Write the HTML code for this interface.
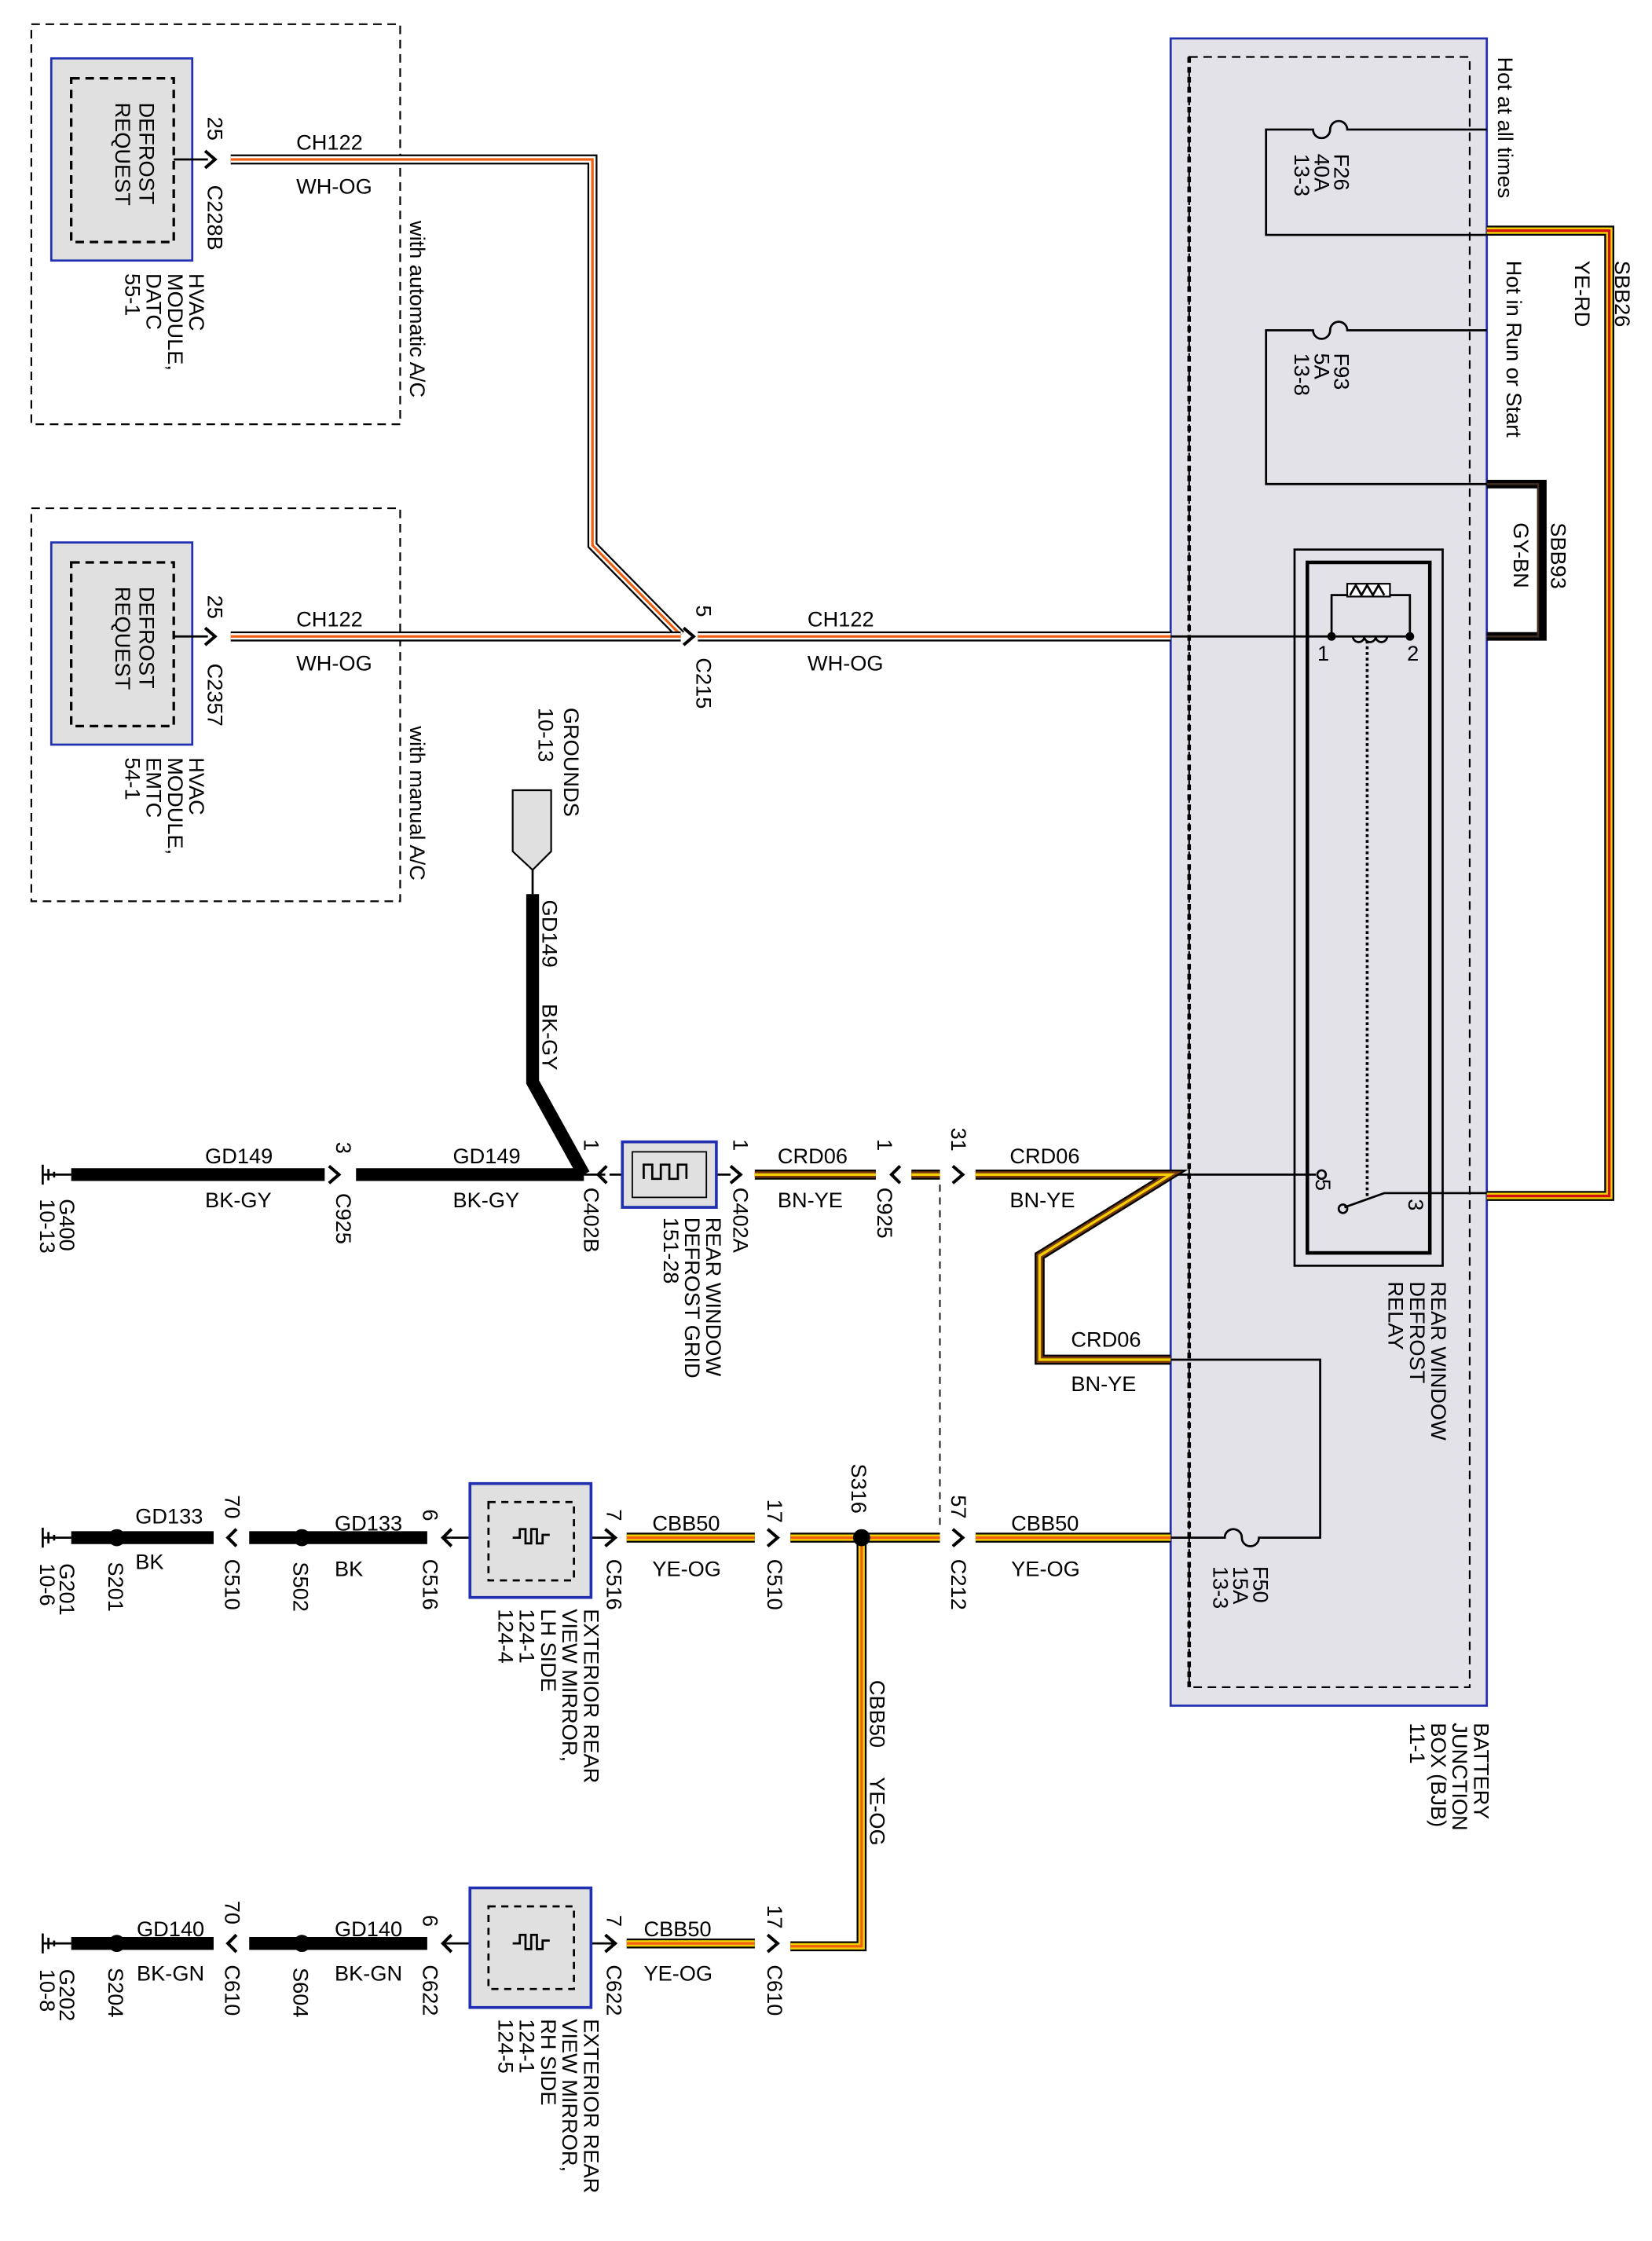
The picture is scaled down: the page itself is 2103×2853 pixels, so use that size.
<!DOCTYPE html>
<html><head><meta charset="utf-8"><style>
html,body{margin:0;padding:0;background:#fff}
svg{display:block}
text{font-family:"Liberation Sans",sans-serif;font-size:15px;fill:#000}
.k{fill:none;stroke:#000;stroke-width:7}
.wh{fill:none;stroke:#fff;stroke-width:4.5}
.ye{fill:none;stroke:#f5d000;stroke-width:4.5}
.bn{fill:none;stroke:#7a3b10;stroke-width:4.5}
.og{fill:none;stroke:#f06010;stroke-width:1.8}
.rd{fill:none;stroke:#d01010;stroke-width:1.8}
.yes{fill:none;stroke:#f5d000;stroke-width:1.8}
.th{fill:none;stroke:#000;stroke-width:9}
.t{fill:none;stroke:#000;stroke-width:1.5}
.ar{fill:none;stroke:#000;stroke-width:2.2}
</style></head><body>
<svg width="2103" height="2853" viewBox="0 0 1160 1574" preserveAspectRatio="none" xmlns="http://www.w3.org/2000/svg">
<rect x="22" y="17" width="259" height="281" fill="none" stroke="#000" stroke-width="1.2" stroke-dasharray="6,4"/>
<rect x="22" y="357" width="259" height="276" fill="none" stroke="#000" stroke-width="1.2" stroke-dasharray="6,4"/>
<rect x="36" y="41" width="99" height="142" fill="#e0e0e0" stroke="#2030b0" stroke-width="1.5"/>
<rect x="50" y="55" width="72" height="115" fill="none" stroke="#000" stroke-width="1.8" stroke-dasharray="6,4"/>
<rect x="36" y="381" width="99" height="142" fill="#e0e0e0" stroke="#2030b0" stroke-width="1.5"/>
<rect x="50" y="395" width="72" height="115" fill="none" stroke="#000" stroke-width="1.8" stroke-dasharray="6,4"/>
<g transform="translate(98,72) rotate(90)"><text>DEFROST<tspan x="0" dy="17">REQUEST</tspan></text></g>
<g transform="translate(98,412) rotate(90)"><text>DEFROST<tspan x="0" dy="17">REQUEST</tspan></text></g>
<g transform="translate(133,192) rotate(90)"><text>HVAC<tspan x="0" dy="15">MODULE,</tspan><tspan x="0" dy="15">DATC</tspan><tspan x="0" dy="15">55-1</tspan></text></g>
<g transform="translate(133,532) rotate(90)"><text>HVAC<tspan x="0" dy="15">MODULE,</tspan><tspan x="0" dy="15">EMTC</tspan><tspan x="0" dy="15">54-1</tspan></text></g>
<g transform="translate(288,155) rotate(90)"><text font-size="14">with automatic A/C</text></g>
<g transform="translate(288,510) rotate(90)"><text font-size="14">with manual A/C</text></g>

<rect x="822" y="27" width="222" height="1171" fill="#e2e2e8" stroke="#2030b0" stroke-width="1.5"/>
<rect x="835" y="40" width="197" height="1145" fill="none" stroke="#000" stroke-width="1.2" stroke-dasharray="6,4"/>
<line x1="835" y1="40" x2="835" y2="1185" stroke="#000" stroke-width="2.5" stroke-dasharray="4,3"/>

<path d="M122 112 H146 M122 447 H146" class="t" stroke-width="2"/>
<g>
<path d="M162 112 H416 V383 L478 446" class="k"/><path d="M162 112 H416 V383 L478 446" class="wh"/><path d="M162 112 H416 V383 L478 446" class="og"/>
<path d="M162 447 H478" class="k"/><path d="M162 447 H478" class="wh"/><path d="M162 447 H478" class="og"/>
<path d="M490 447 H822" class="k"/><path d="M490 447 H822" class="wh"/><path d="M490 447 H822" class="og"/>
</g>
<path d="M822 447 H990" class="t" stroke-width="2"/>
<g class="ar">
<path d="M144 106 L151 112 L144 118"/><path d="M144 441 L151 447 L144 453"/>
<path d="M480 441 L487 447 L480 453"/>
</g>
<g transform="translate(146,82) rotate(90)"><text>25</text></g>
<g transform="translate(146,130) rotate(90)"><text>C228B</text></g>
<g transform="translate(146,418) rotate(90)"><text>25</text></g>
<g transform="translate(146,466) rotate(90)"><text>C2357</text></g>
<g transform="translate(489,425) rotate(90)"><text>5</text></g>
<g transform="translate(489,462) rotate(90)"><text>C215</text></g>
<text x="208" y="105">CH122</text><text x="208" y="136">WH-OG</text>
<text x="208" y="440">CH122</text><text x="208" y="471">WH-OG</text>
<text x="567" y="440">CH122</text><text x="567" y="471">WH-OG</text>

<path d="M1044 91 H946 a6 6 0 0 0 -12 0 a6 6 0 0 1 -12 0 H889 V165 H1044" class="t"/>
<path d="M1044 232 H946 a6 6 0 0 0 -12 0 a6 6 0 0 1 -12 0 H889 V340 H1044" class="t"/>
<g transform="translate(937,108) rotate(90)"><text font-size="14">F26<tspan x="0" dy="14">40A</tspan><tspan x="0" dy="14">13-3</tspan></text></g>
<g transform="translate(937,248) rotate(90)"><text font-size="14">F93<tspan x="0" dy="14">5A</tspan><tspan x="0" dy="14">13-8</tspan></text></g>
<g transform="translate(1052,40) rotate(90)"><text font-size="14">Hot at all times</text></g>
<g transform="translate(1058,183) rotate(90)"><text font-size="14">Hot in Run or Start</text></g>
<path d="M1044 162 H1130 V840 H1044" class="k"/><path d="M1044 162 H1130 V840 H1044" class="ye"/><path d="M1044 162 H1130 V840 H1044" class="rd"/>
<g transform="translate(1134,183) rotate(90)"><text font-size="14">SBB26</text></g>
<g transform="translate(1106,183) rotate(90)"><text font-size="14">YE-RD</text></g>
<path d="M1044 340 H1083 V447 H1044" fill="none" stroke="#000" stroke-width="6"/>
<path d="M1044 340 H1080 V447 H1044" fill="none" stroke="#3a2a20" stroke-width="1.5"/>
<g transform="translate(1089,367) rotate(90)"><text font-size="14">SBB93</text></g>
<g transform="translate(1063,367) rotate(90)"><text font-size="14">GY-BN</text></g>

<rect x="909" y="386" width="104" height="503" fill="none" stroke="#000" stroke-width="1.5"/>
<rect x="918" y="395" width="86" height="485" fill="none" stroke="#000" stroke-width="2.5"/>
<path d="M935 447 V418 H990 V447" class="t"/>
<rect x="946" y="410" width="30" height="9" fill="#fff" stroke="#000" stroke-width="1.2"/>
<path d="M948 418 l4 -7 l4 7 l4 -7 l4 7 l4 -7 l4 7" class="t" stroke-width="1"/>
<path d="M950 447 a4 4 0 0 0 8 0 a4 4 0 0 0 8 0 a4 4 0 0 0 8 0" class="t" stroke-width="1"/>
<circle cx="935" cy="447" r="3"/><circle cx="990" cy="447" r="3"/>
<line x1="960" y1="450" x2="960" y2="842" stroke="#000" stroke-width="2" stroke-dasharray="2,2"/>
<text x="925" y="464" font-size="13">1</text><text x="988" y="464" font-size="13">2</text>
<g transform="translate(924,828) rotate(90)"><text font-size="13">5</text></g>
<g transform="translate(989,842) rotate(90)"><text font-size="13">3</text></g>
<path d="M822 825 H924" class="t" stroke-width="1"/>
<circle cx="928" cy="825" r="3" fill="none" stroke="#000" stroke-width="1.5"/>
<path d="M1044 838 H972 L944 848" class="t"/>
<circle cx="943" cy="849" r="3" fill="none" stroke="#000" stroke-width="1.5"/>
<g transform="translate(1005,900) rotate(90)"><text font-size="14">REAR WINDOW<tspan x="0" dy="15">DEFROST</tspan><tspan x="0" dy="15">RELAY</tspan></text></g>

<path d="M822 1080 H860 a6 6 0 0 1 12 0 a6 6 0 0 0 12 0 H927 V955 H822" class="t"/>
<g transform="translate(880,1100) rotate(90)"><text font-size="14">F50<tspan x="0" dy="14">15A</tspan><tspan x="0" dy="14">13-3</tspan></text></g>
<g transform="translate(1035,1210) rotate(90)"><text font-size="14">BATTERY<tspan x="0" dy="15">JUNCTION</tspan><tspan x="0" dy="15">BOX (BJB)</tspan><tspan x="0" dy="15">11-1</tspan></text></g>

<g transform="translate(396,497) rotate(90)"><text font-size="14">GROUNDS<tspan x="0" dy="18">10-13</tspan></text></g>
<path d="M360 555 H387 V598 L374 611 L360 598 Z" fill="#e0e0e0" stroke="#000" stroke-width="1.2"/>
<path d="M374 611 V628" class="t"/>
<path d="M374 628 V760 L410 825" class="th"/>
<g transform="translate(381,632) rotate(90)"><text font-size="14">GD149</text></g>
<g transform="translate(381,705) rotate(90)"><text font-size="14">BK-GY</text></g>

<path d="M30 818 V832 M34 821 V829 M38 823 V827 M30 825 H50" class="t"/>
<path d="M50 825 H228 M250 825 H410" class="th"/>
<path d="M410 825 H425" class="t" stroke-width="2"/>
<g class="ar">
<path d="M231 819 L238 825 L231 831"/><path d="M426 819 L420 825 L426 831"/>
<path d="M513 819 L520 825 L513 831"/><path d="M632 819 L626 825 L632 831"/>
<path d="M669 819 L676 825 L669 831"/>
</g>
<path d="M428 825 H437 M503 825 H513" class="t" stroke-width="2"/>
<rect x="437" y="802" width="66" height="46" fill="#e0e0e0" stroke="#2030b0" stroke-width="2"/>
<rect x="444" y="809" width="52" height="32" fill="none" stroke="#000" stroke-width="1"/>
<path d="M452 828 v-10 h6 v10 h6 v-10 h6 v10 h6 v-10 h6 v10" class="t" stroke-width="1"/>
<path d="M530 825 H615 M640 825 H660 M685 825 H822 L730 882 V955 H822" class="k"/>
<path d="M530 825 H615 M640 825 H660 M685 825 H822 L730 882 V955 H822" class="bn"/>
<path d="M530 825 H615 M640 825 H660 M685 825 H822 L730 882 V955 H822" class="yes"/>
<line x1="660" y1="832" x2="660" y2="1074" stroke="#000" stroke-width="1" stroke-dasharray="5,4"/>
<text x="144" y="817">GD149</text><text x="144" y="848">BK-GY</text>
<text x="318" y="817">GD149</text><text x="318" y="848">BK-GY</text>
<text x="546" y="817">CRD06</text><text x="546" y="848">BN-YE</text>
<text x="709" y="817">CRD06</text><text x="709" y="848">BN-YE</text>
<text x="752" y="946">CRD06</text><text x="752" y="977">BN-YE</text>
<g transform="translate(236,802) rotate(90)"><text>3</text></g>
<g transform="translate(236,838) rotate(90)"><text>C925</text></g>
<g transform="translate(410,800) rotate(90)"><text>1</text></g>
<g transform="translate(410,834) rotate(90)"><text>C402B</text></g>
<g transform="translate(515,800) rotate(90)"><text>1</text></g>
<g transform="translate(515,834) rotate(90)"><text>C402A</text></g>
<g transform="translate(616,800) rotate(90)"><text>1</text></g>
<g transform="translate(616,834) rotate(90)"><text>C925</text></g>
<g transform="translate(668,792) rotate(90)"><text>31</text></g>
<g transform="translate(42,842) rotate(90)"><text>G400<tspan x="0" dy="14">10-13</tspan></text></g>
<g transform="translate(496,855) rotate(90)"><text font-size="14">REAR WINDOW<tspan x="0" dy="15">DEFROST GRID</tspan><tspan x="0" dy="15">151-28</tspan></text></g>

<g>
<path d="M30 1073 V1087 M34 1076 V1084 M38 1078 V1082 M30 1080 H50" class="t"/>
<path d="M50 1080 H150 M175 1080 H300" class="th"/>
<circle cx="82" cy="1080" r="6"/><circle cx="212" cy="1080" r="6"/>
<g class="ar">
<path d="M166 1074 L160 1080 L166 1086"/><path d="M317 1074 L311 1080 L317 1086"/>
<path d="M425 1074 L432 1080 L425 1086"/><path d="M539 1074 L546 1080 L539 1086"/>
<path d="M669 1074 L676 1080 L669 1086"/>
</g>
<path d="M311 1080 H330 M415 1080 H432" class="t" stroke-width="2"/>
<rect x="330" y="1042" width="85" height="80" fill="#e0e0e0" stroke="#2030b0" stroke-width="2"/>
<rect x="343" y="1055" width="60" height="55" fill="none" stroke="#000" stroke-width="1.5" stroke-dasharray="5,4"/>
<path d="M360 1080 h5 v-6 h4 v10 h4 v-10 h4 v10 h4 v-6 h5" class="t" stroke-width="1"/>
</g>
<g>
<path d="M30 1358 V1372 M34 1361 V1369 M38 1363 V1367 M30 1365 H50" class="t"/>
<path d="M50 1365 H150 M175 1365 H300" class="th"/>
<circle cx="82" cy="1365" r="6"/><circle cx="212" cy="1365" r="6"/>
<g class="ar">
<path d="M166 1359 L160 1365 L166 1371"/><path d="M317 1359 L311 1365 L317 1371"/>
<path d="M425 1359 L432 1365 L425 1371"/><path d="M539 1359 L546 1365 L539 1371"/>
</g>
<path d="M311 1365 H330 M415 1365 H432" class="t" stroke-width="2"/>
<rect x="330" y="1326" width="85" height="84" fill="#e0e0e0" stroke="#2030b0" stroke-width="2"/>
<rect x="343" y="1339" width="60" height="58" fill="none" stroke="#000" stroke-width="1.5" stroke-dasharray="5,4"/>
<path d="M360 1365 h5 v-6 h4 v10 h4 v-10 h4 v10 h4 v-6 h5" class="t" stroke-width="1"/>
</g>
<path d="M440 1080 H530 M555 1080 H660 M685 1080 H822 M605 1080 V1367 H555 M440 1365 H530" class="k"/>
<path d="M440 1080 H530 M555 1080 H660 M685 1080 H822 M605 1080 V1367 H555 M440 1365 H530" class="ye"/>
<path d="M440 1080 H530 M555 1080 H660 M685 1080 H822 M605 1080 V1367 H555 M440 1365 H530" class="og"/>
<circle cx="605" cy="1080" r="6"/>

<text x="95" y="1070">GD133</text><text x="95" y="1102">BK</text>
<text x="235" y="1075">GD133</text><text x="235" y="1107">BK</text>
<text x="458" y="1075">CBB50</text><text x="458" y="1107">YE-OG</text>
<text x="710" y="1075">CBB50</text><text x="710" y="1107">YE-OG</text>
<text x="96" y="1360">GD140</text><text x="96" y="1391">BK-GN</text>
<text x="235" y="1360">GD140</text><text x="235" y="1391">BK-GN</text>
<text x="452" y="1360">CBB50</text><text x="452" y="1391">YE-OG</text>
<g transform="translate(611,1180) rotate(90)"><text font-size="14">CBB50</text></g>
<g transform="translate(611,1248) rotate(90)"><text font-size="14">YE-OG</text></g>
<g transform="translate(598,1028) rotate(90)"><text>S316</text></g>

<g font-size="15">
<g transform="translate(158,1050) rotate(90)"><text>70</text></g>
<g transform="translate(158,1095) rotate(90)"><text>C510</text></g>
<g transform="translate(297,1060) rotate(90)"><text>6</text></g>
<g transform="translate(297,1095) rotate(90)"><text>C516</text></g>
<g transform="translate(426,1060) rotate(90)"><text>7</text></g>
<g transform="translate(426,1095) rotate(90)"><text>C516</text></g>
<g transform="translate(539,1053) rotate(90)"><text>17</text></g>
<g transform="translate(539,1095) rotate(90)"><text>C510</text></g>
<g transform="translate(668,1050) rotate(90)"><text>57</text></g>
<g transform="translate(668,1095) rotate(90)"><text>C212</text></g>
<g transform="translate(76,1097) rotate(90)"><text>S201</text></g>
<g transform="translate(206,1097) rotate(90)"><text>S502</text></g>
<g transform="translate(42,1098) rotate(90)"><text>G201<tspan x="0" dy="14">10-6</tspan></text></g>

<g transform="translate(158,1335) rotate(90)"><text>70</text></g>
<g transform="translate(158,1380) rotate(90)"><text>C610</text></g>
<g transform="translate(297,1345) rotate(90)"><text>6</text></g>
<g transform="translate(297,1380) rotate(90)"><text>C622</text></g>
<g transform="translate(426,1345) rotate(90)"><text>7</text></g>
<g transform="translate(426,1380) rotate(90)"><text>C622</text></g>
<g transform="translate(539,1338) rotate(90)"><text>17</text></g>
<g transform="translate(539,1380) rotate(90)"><text>C610</text></g>
<g transform="translate(76,1382) rotate(90)"><text>S204</text></g>
<g transform="translate(206,1382) rotate(90)"><text>S604</text></g>
<g transform="translate(42,1383) rotate(90)"><text>G202<tspan x="0" dy="14">10-8</tspan></text></g>
</g>
<g transform="translate(410,1130) rotate(90)"><text font-size="14">EXTERIOR REAR<tspan x="0" dy="15">VIEW MIRROR,</tspan><tspan x="0" dy="15">LH SIDE</tspan><tspan x="0" dy="15">124-1</tspan><tspan x="0" dy="15">124-4</tspan></text></g>
<g transform="translate(410,1418) rotate(90)"><text font-size="14">EXTERIOR REAR<tspan x="0" dy="15">VIEW MIRROR,</tspan><tspan x="0" dy="15">RH SIDE</tspan><tspan x="0" dy="15">124-1</tspan><tspan x="0" dy="15">124-5</tspan></text></g>
</svg>
</body></html>
